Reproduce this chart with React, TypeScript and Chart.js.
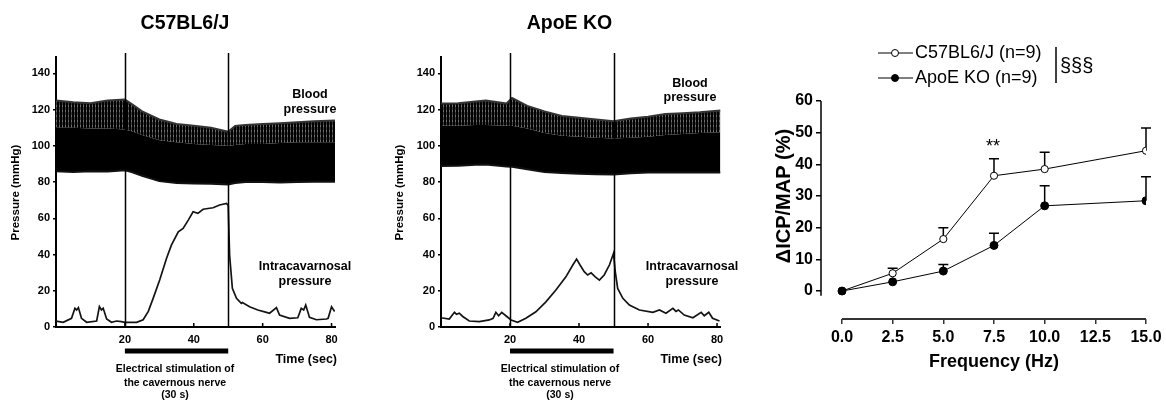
import React, { useEffect, useRef } from 'react';
import { Chart, registerables } from 'chart.js';

Chart.register(...registerables);

const FONT = "'Liberation Sans', Arial, Helvetica, sans-serif";
const W = 1166;
const H = 401;

// ---------- Panel 1: C57BL6/J raw traces ----------
const wtIcpTime = [0, 2.1, 4.5, 5.5, 6.0, 6.5, 7.4, 8.9, 11.8, 12.6, 13.2, 13.7, 14.7, 16.1, 17.6, 19, 20, 23.4, 25.3, 26.8, 28.2, 30.1, 32.1, 33.5, 35.5, 36.9, 38.4, 39.8, 41.2, 42.7, 45.6, 47.5, 49.5, 50, 50.4, 51.2, 52.4, 53.8, 54.1, 56.2, 58.6, 61.1, 62, 64, 64.9, 67.8, 70.2, 71.2, 71.9, 72.5, 73.6, 75.6, 78.5, 79, 80, 80.9];
const wtIcpValue = [3.3, 2.6, 4.8, 10.3, 9.4, 10.7, 4.8, 2.6, 3.3, 11.3, 9.4, 10.3, 4.4, 2.6, 3.3, 3.0, 2.6, 2.6, 4.0, 8.6, 15.8, 25.9, 37.9, 45.2, 52.5, 54.4, 59, 63.6, 62.7, 65, 65.8, 67.3, 68.2, 67, 39.7, 21.3, 15.8, 13, 13.5, 11.2, 9.4, 8.1, 7.6, 10.7, 6.6, 4.8, 5.1, 10.3, 9.4, 12.1, 5.3, 4.0, 4.4, 4.8, 11.2, 8.6];
const wtBpTime = [0, 5, 10, 15, 20, 22, 25, 30, 35, 40, 45, 50, 52, 55, 60, 65, 70, 75, 81];
const wtBpUpper = [125, 124, 123.5, 125, 125.5, 123, 119, 114.5, 112, 111, 110, 107.7, 111, 111.5, 112, 112.5, 113, 113.5, 114];
const wtBpDense = [110, 110, 109.5, 109.5, 109, 108, 106, 103, 102, 101, 100.5, 100, 100.5, 101, 101, 101.5, 102, 102, 102];
const wtBpLower = [86, 85.5, 86, 85.8, 86.5, 85.5, 83.5, 80.5, 79.5, 79.2, 79, 78.7, 79.5, 80, 80, 79.8, 80, 80.2, 80.1];

// ---------- Panel 2: ApoE KO raw traces ----------
const koIcpTime = [0, 2.4, 3.9, 4.5, 5.3, 6.3, 8.2, 11.1, 14, 15.1, 15.9, 16.7, 17.6, 18.8, 20.3, 22.2, 24.6, 27.5, 30.4, 33.3, 36.2, 38.2, 39.3, 40.3, 41.5, 42.5, 43.5, 44.7, 45.9, 47.3, 48.8, 50, 50.5, 51.2, 52.7, 54.6, 57.5, 61.4, 63.3, 65.2, 67.2, 68.1, 68.8, 70.5, 73, 75.4, 76.3, 77.6, 78.7, 80.7];
const koIcpValue = [5.1, 4.4, 8.1, 7.0, 7.6, 5.8, 3.3, 3.0, 3.9, 4.8, 8.1, 6.2, 8.1, 6.2, 3.9, 2.6, 4.8, 8.4, 13.9, 20.4, 27.7, 34.2, 37.5, 34.2, 30.5, 28.7, 29.9, 27.7, 25.9, 28.7, 34.2, 40.6, 30.5, 21.3, 15.8, 12.1, 9.4, 8.1, 9.4, 7.6, 10.3, 8.6, 9.4, 6.6, 5.1, 8.1, 6.2, 8.1, 4.8, 3.3];
const koBpTime = [0, 5, 10, 13, 19, 20.6, 25, 30, 35, 40, 45, 50, 55, 60, 65, 70, 75, 81];
const koBpUpper = [123.3, 123.5, 124.5, 125, 123.3, 126.4, 122, 119, 116.5, 115.5, 114.5, 113.5, 115, 116, 117.5, 118, 118.5, 119.5];
const koBpDense = [111, 111, 111.5, 111.5, 111, 111, 109.5, 107, 105.5, 105, 104.5, 104, 104.5, 105, 106, 106.5, 107, 107.5];
const koBpLower = [88.9, 89, 89.5, 89.7, 88.6, 88.4, 87, 85.5, 85, 84.6, 84.3, 84.2, 84.8, 85.2, 85.3, 85.2, 85.3, 85.3];

const traceXTicks = [20, 40, 60, 80];
const traceYTicks = [0, 20, 40, 60, 80, 100, 120, 140];
const stimWindow = [20, 50];

// ---------- Panel 3: frequency response ----------
const freq = [0, 2.5, 5, 7.5, 10, 15];
const wtMean = [0, 5.6, 16.4, 36.4, 38.5, 44.3];
const wtSem = [0, 1.6, 3.6, 5.4, 5.3, 7.2];
const koMean = [0, 2.9, 6.3, 14.4, 26.9, 28.5];
const koSem = [0, 0, 2.1, 3.8, 6.3, 7.6];
const freqTicks = [0, 2.5, 5, 7.5, 10, 12.5, 15];
const ratioTicks = [0, 10, 20, 30, 40, 50, 60];

const pts = (xs: number[], ys: number[]) => xs.map((x, i) => ({ x, y: ys[i] }));

function text(ctx: CanvasRenderingContext2D, s: string, x: number, y: number, font: string, align: CanvasTextAlign = 'center') {
  ctx.font = font;
  ctx.textAlign = align;
  ctx.textBaseline = 'middle';
  ctx.fillText(s, x, y);
}

function vtext(ctx: CanvasRenderingContext2D, s: string, x: number, y: number, font: string) {
  ctx.save();
  ctx.translate(x, y);
  ctx.rotate(-Math.PI / 2);
  text(ctx, s, 0, 0, font, 'center');
  ctx.restore();
}

function stripePattern(ctx: CanvasRenderingContext2D) {
  const pc = document.createElement('canvas');
  pc.width = 3;
  pc.height = 5;
  const p = pc.getContext('2d')!;
  p.fillStyle = '#000';
  p.fillRect(0, 0, 3, 5);
  p.fillStyle = '#707070';
  p.fillRect(2, 0, 1, 2);
  p.fillStyle = '#3c3c3c';
  p.fillRect(2, 2, 1, 3);
  return ctx.createPattern(pc, 'repeat')!;
}

type TraceCfg = {
  title: string;
  titleX: number;
  left: number;
  right: number;
  yLabelX: number;
  bpLabel: [number, number];
  icpLabel: [number, number];
  timeRight: number;
  stimCenter: number;
  icpT: number[];
  icpV: number[];
  bpT: number[];
  bpUpper: number[];
  bpDense: number[];
  bpLower: number[];
};

function makeTrace(canvas: HTMLCanvasElement, c: TraceCfg) {
  const tickFont = { family: FONT, size: 11, weight: 'bold' as const };
  const pattern = stripePattern(canvas.getContext('2d')!);
  const overlay = {
    id: 'traceOverlay',
    afterDraw(chart: any) {
      const { ctx, chartArea, scales } = chart;
      const x = scales.x;
      ctx.save();
      ctx.fillStyle = '#000';
      ctx.strokeStyle = '#000';
      ctx.lineWidth = 1.5;
      stimWindow.forEach((t) => {
        const px = Math.round(x.getPixelForValue(t)) + 0.5;
        ctx.beginPath();
        ctx.moveTo(px, 53);
        ctx.lineTo(px, chartArea.bottom);
        ctx.stroke();
      });
      traceXTicks.forEach((t) => {
        const px = x.getPixelForValue(t);
        ctx.beginPath();
        ctx.moveTo(px, chartArea.bottom);
        ctx.lineTo(px, chartArea.bottom - 4);
        ctx.stroke();
      });
      const x0 = x.getPixelForValue(stimWindow[0]);
      const x1 = x.getPixelForValue(stimWindow[1]);
      ctx.fillRect(x0, 348.5, x1 - x0, 5);

      text(ctx, c.title, c.titleX, 24, `bold 19.5px ${FONT}`);
      text(ctx, 'Blood', c.bpLabel[0], c.bpLabel[1], `bold 12.5px ${FONT}`);
      text(ctx, 'pressure', c.bpLabel[0], c.bpLabel[1] + 14.5, `bold 12.5px ${FONT}`);
      text(ctx, 'Intracavarnosal', c.icpLabel[0], c.icpLabel[1], `bold 12.5px ${FONT}`);
      text(ctx, 'pressure', c.icpLabel[0], c.icpLabel[1] + 15, `bold 12.5px ${FONT}`);
      text(ctx, 'Time (sec)', c.timeRight, 360, `bold 12.5px ${FONT}`, 'right');
      text(ctx, 'Electrical stimulation of', c.stimCenter, 369.5, `bold 10.5px ${FONT}`);
      text(ctx, 'the cavernous nerve', c.stimCenter, 383, `bold 10.5px ${FONT}`);
      text(ctx, '(30 s)', c.stimCenter, 395.5, `bold 10.5px ${FONT}`);
      vtext(ctx, 'Pressure (mmHg)', c.yLabelX, 192.5, `bold 11.5px ${FONT}`);
      ctx.restore();
    },
  };
  return new Chart(canvas, {
    type: 'line',
    data: {
      datasets: [
        { data: pts(c.bpT, c.bpLower), borderColor: '#111', borderWidth: 2, pointRadius: 0, fill: false },
        { data: pts(c.bpT, c.bpDense), borderColor: '#000', borderWidth: 0, pointRadius: 0, fill: '-1', backgroundColor: '#000' },
        { data: pts(c.bpT, c.bpUpper), borderColor: '#333', borderWidth: 2, pointRadius: 0, fill: '-1', backgroundColor: pattern },
        { data: pts(c.icpT, c.icpV), borderColor: '#141414', borderWidth: 1.7, pointRadius: 0, fill: false },
      ],
    },
    options: {
      responsive: false,
      animation: false,
      events: [],
      layout: { padding: { left: c.left - 40, right: W - c.right, top: 57, bottom: H - 327 - 30 } },
      plugins: { legend: { display: false }, tooltip: { enabled: false } },
      scales: {
        x: {
          type: 'linear',
          min: 0,
          max: 81,
          afterFit: (s: any) => { s.height = 30; },
          afterBuildTicks: (s: any) => { s.ticks = traceXTicks.map((value) => ({ value })); },
          grid: { display: false, drawTicks: false, tickLength: 0 },
          border: { display: true, width: 2, color: '#000' },
          ticks: { font: tickFont, color: '#000', padding: 6, maxRotation: 0, autoSkip: false },
        },
        y: {
          type: 'linear',
          min: 0,
          max: 149,
          afterFit: (s: any) => { s.width = 40; },
          afterBuildTicks: (s: any) => { s.ticks = traceYTicks.map((value) => ({ value })); },
          grid: { drawOnChartArea: false, tickLength: 3, lineWidth: 1.5, color: '#000' },
          border: { display: true, width: 2, color: '#000' },
          ticks: { font: tickFont, color: '#000', padding: 3, autoSkip: false },
        },
      },
    },
    plugins: [overlay],
  } as any);
}

function makeFreq(canvas: HTMLCanvasElement) {
  const tickFont = { family: FONT, size: 16, weight: 'bold' as const };
  const errorBars = {
    id: 'errorBars',
    beforeDatasetsDraw(chart: any) {
      const { ctx, scales } = chart;
      const { x, y } = scales;
      ctx.save();
      ctx.strokeStyle = '#000';
      ctx.lineWidth = 1.5;
      const draw = (means: number[], sems: number[]) => {
        freq.forEach((f, i) => {
          if (!sems[i]) return;
          const px = x.getPixelForValue(f);
          const y0 = y.getPixelForValue(means[i]);
          const y1 = y.getPixelForValue(means[i] + sems[i]);
          ctx.beginPath();
          ctx.moveTo(px, y0);
          ctx.lineTo(px, y1);
          ctx.moveTo(px - 5, y1);
          ctx.lineTo(px + 5, y1);
          ctx.stroke();
        });
      };
      draw(wtMean, wtSem);
      draw(koMean, koSem);
      ctx.restore();
    },
  };
  const decor = {
    id: 'decor',
    afterDraw(chart: any) {
      const { ctx, scales, chartArea } = chart;
      const { x, y } = scales;
      ctx.save();
      ctx.strokeStyle = '#000';
      ctx.fillStyle = '#000';
      // y axis line
      ctx.lineWidth = 1.5;
      ctx.beginPath();
      ctx.moveTo(chartArea.left, y.getPixelForValue(60));
      ctx.lineTo(chartArea.left, y.getPixelForValue(-1.5));
      ctx.stroke();
      // x axis line (offset)
      ctx.lineWidth = 2;
      ctx.strokeStyle = '#333';
      ctx.beginPath();
      ctx.moveTo(x.getPixelForValue(0), chartArea.bottom);
      ctx.lineTo(x.getPixelForValue(15), chartArea.bottom);
      ctx.stroke();
      ctx.strokeStyle = '#000';
      // significance
      text(ctx, '**', x.getPixelForValue(7.5) - 1, 147, `18px ${FONT}`);
      // axis titles
      text(ctx, 'Frequency (Hz)', 994, 362, `bold 18px ${FONT}`);
      vtext(ctx, '\u0394ICP/MAP (%)', 784, 196, `bold 20px ${FONT}`);
      // legend
      const legendRows: [string, boolean, number][] = [
        ['C57BL6/J (n=9)', false, 53],
        ['ApoE KO (n=9)', true, 78],
      ];
      legendRows.forEach(([label, filled, ly]) => {
        ctx.lineWidth = 1;
        ctx.beginPath();
        ctx.moveTo(878, ly);
        ctx.lineTo(913, ly);
        ctx.stroke();
        ctx.beginPath();
        ctx.arc(895, ly, 3.5, 0, Math.PI * 2);
        ctx.fillStyle = filled ? '#000' : '#fff';
        ctx.fill();
        ctx.stroke();
        ctx.fillStyle = '#000';
        text(ctx, label, 915, ly, `18px ${FONT}`, 'left');
      });
      ctx.lineWidth = 1.5;
      ctx.beginPath();
      ctx.moveTo(1056, 47);
      ctx.lineTo(1056, 83);
      ctx.stroke();
      text(ctx, '\u00a7\u00a7\u00a7', 1060, 66, `20px ${FONT}`, 'left');
      ctx.restore();
    },
  };
  return new Chart(canvas, {
    type: 'line',
    data: {
      datasets: [
        { label: 'ApoE KO (n=9)', data: pts(freq, koMean), borderColor: '#000', borderWidth: 1, pointRadius: 4, pointBackgroundColor: '#000', pointBorderColor: '#000', order: 0 },
        { label: 'C57BL6/J (n=9)', data: pts(freq, wtMean), borderColor: '#000', borderWidth: 1, pointRadius: 3.6, pointBackgroundColor: '#fff', pointBorderColor: '#000', pointBorderWidth: 1, order: 1 },
      ],
    },
    options: {
      responsive: false,
      animation: false,
      events: [],
      layout: { padding: { left: 821 - 50, right: W - 1146, top: 101, bottom: H - 319 - 40 } },
      plugins: { legend: { display: false }, tooltip: { enabled: false } },
      scales: {
        x: {
          type: 'linear',
          min: -1.036,
          max: 15,
          afterFit: (s: any) => { s.height = 40; },
          afterBuildTicks: (s: any) => { s.ticks = freqTicks.map((value) => ({ value })); },
          grid: { drawOnChartArea: false, tickLength: 5, lineWidth: 1.5, color: '#333' },
          border: { display: false },
          ticks: { font: tickFont, color: '#000', padding: 4, maxRotation: 0, autoSkip: false, callback: (v: any) => Number(v).toFixed(1) },
        },
        y: {
          type: 'linear',
          min: -8.84,
          max: 60,
          afterFit: (s: any) => { s.width = 50; },
          afterBuildTicks: (s: any) => { s.ticks = ratioTicks.map((value) => ({ value })); },
          grid: { drawOnChartArea: false, tickLength: 5, lineWidth: 1.5, color: '#000' },
          border: { display: false },
          ticks: { font: tickFont, color: '#000', padding: 3, autoSkip: false },
        },
      },
    },
    plugins: [errorBars, decor],
  } as any);
}

export default function App() {
  const c1 = useRef<HTMLCanvasElement>(null);
  const c2 = useRef<HTMLCanvasElement>(null);
  const c3 = useRef<HTMLCanvasElement>(null);

  useEffect(() => {
    const charts = [
      makeTrace(c1.current!, {
        title: 'C57BL6/J', titleX: 185, left: 56, right: 335, yLabelX: 16,
        bpLabel: [310, 95], icpLabel: [305, 267], timeRight: 337, stimCenter: 175,
        icpT: wtIcpTime, icpV: wtIcpValue, bpT: wtBpTime, bpUpper: wtBpUpper, bpDense: wtBpDense, bpLower: wtBpLower,
      }),
      makeTrace(c2.current!, {
        title: 'ApoE KO', titleX: 569.5, left: 441, right: 720.5, yLabelX: 400,
        bpLabel: [690, 83.5], icpLabel: [692, 267], timeRight: 722, stimCenter: 560,
        icpT: koIcpTime, icpV: koIcpValue, bpT: koBpTime, bpUpper: koBpUpper, bpDense: koBpDense, bpLower: koBpLower,
      }),
      makeFreq(c3.current!),
    ];
    return () => charts.forEach((ch) => ch.destroy());
  }, []);

  const cs: React.CSSProperties = { position: 'absolute', left: 0, top: 0, width: W, height: H };
  return (
    <div style={{ position: 'absolute', left: 0, top: 0, width: W, height: H, background: '#fff' }}>
      <canvas ref={c1} width={W} height={H} style={cs} />
      <canvas ref={c2} width={W} height={H} style={cs} />
      <canvas ref={c3} width={W} height={H} style={cs} />
    </div>
  );
}
